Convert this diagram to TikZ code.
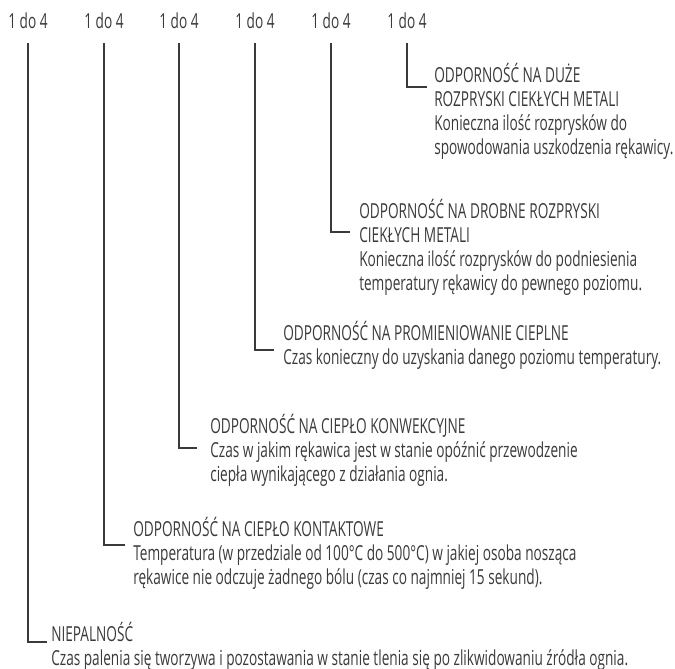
\documentclass[tikz,border=0pt]{standalone}
\usepackage{fontspec}
\setmainfont{Open Sans}[FakeStretch=0.66]
\definecolor{ink}{HTML}{3A3A3A}
\tikzset{
  grade/.style={font=\fontsize{15.5}{18}\selectfont, text=ink, inner sep=0pt, anchor=base},
  note/.style={font=\fontsize{15.5}{18}\selectfont, text=ink, inner sep=0pt, align=left, anchor=base west},
  lead/.style={draw=ink, line width=0.9pt}
}
\begin{document}
\begin{tikzpicture}[x=0.75pt,y=-0.75pt]
\useasboundingbox (0,0) rectangle (675,668);

% grades along the top
\foreach \i/\x in {1/28,2/104,3/179,4/255,5/331,6/407}
  \node[grade] (g\i) at (\x,28) {1 do 4};

% descriptions (anchored at the baseline of their last line)
\node[note] (b6) at (434,154) {ODPORNOŚĆ NA DUŻE\\ROZPRYSKI CIEKŁYCH METALI\\Konieczna ilość rozprysków do\\spowodowania uszkodzenia rękawicy.};
\node[note] (b5) at (359,290) {ODPORNOŚĆ NA DROBNE ROZPRYSKI\\CIEKŁYCH METALI\\Konieczna ilość rozprysków do podniesienia\\temperatury rękawicy do pewnego poziomu.};
\node[note] (b4) at (283,364) {ODPORNOŚĆ NA PROMIENIOWANIE CIEPLNE\\Czas konieczny do uzyskania danego poziomu temperatury.};
\node[note] (b3) at (210,481) {ODPORNOŚĆ NA CIEPŁO KONWEKCYJNE\\Czas w jakim rękawica jest w stanie opóźnić przewodzenie\\ciepła wynikającego z działania ognia.};
\node[note] (b2) at (133,584) {ODPORNOŚĆ NA CIEPŁO KONTAKTOWE\\Temperatura (w przedziale od 100°C do 500°C) w jakiej osoba nosząca\\rękawice nie odczuje żadnego bólu (czas co najmniej 15 sekund).};
\node[note] (b1) at (51,665) {NIEPALNOŚĆ\\Czas palenia się tworzywa i pozostawania w stanie tlenia się po zlikwidowaniu źródła ognia.};

% leads from the grades
\foreach \i/\x/\y/\e in {1/28/642/47, 2/104/545/125, 3/179/448/197, 4/255/350/274, 5/331/232/350, 6/407/87/427} {
  \coordinate (c\i) at (\e,\y);
  \draw[lead] (g\i |- 0,43) |- (c\i);
}
\end{tikzpicture}
\end{document}
